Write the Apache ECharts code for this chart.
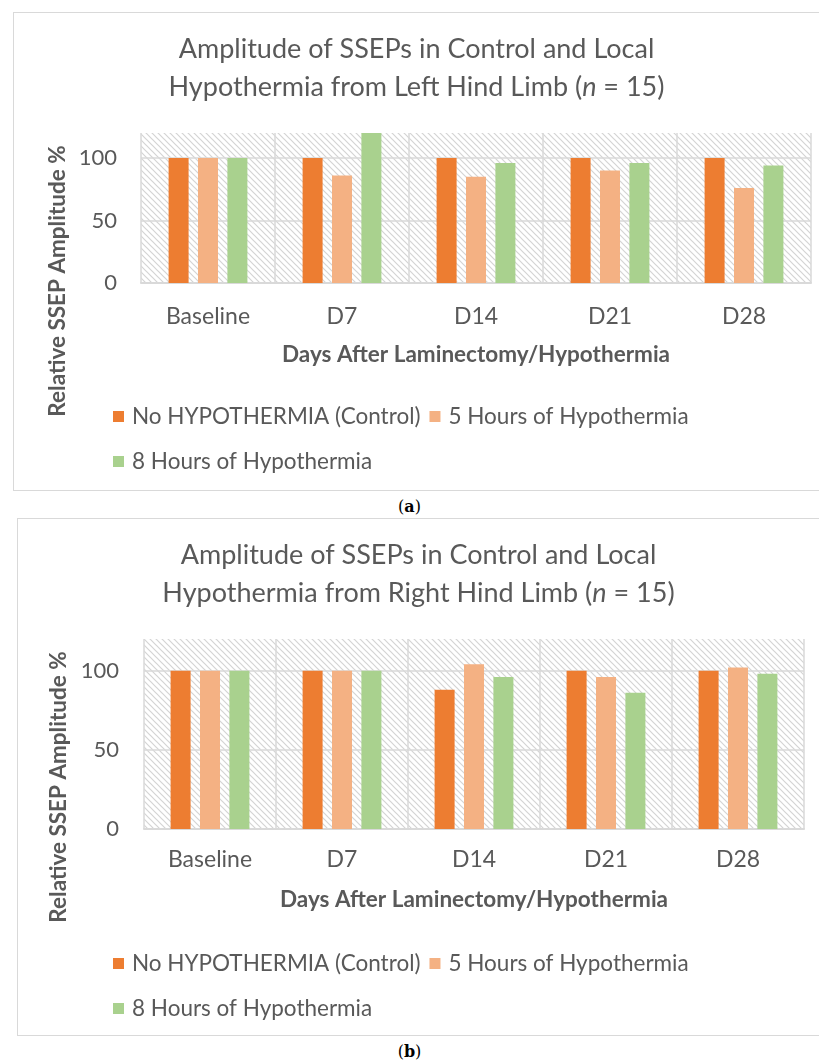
<!DOCTYPE html>
<html>
<head>
<meta charset="utf-8">
<script src="https://cdn.jsdelivr.net/npm/echarts@6/dist/echarts.min.js"></script>
<style>
  html, body { margin:0; padding:0; width:819px; height:1064px; overflow:hidden; background:#fff; }
  .box { position:absolute; border:1px solid #d9d9d9; border-right:none; box-sizing:border-box; }
  .cap { position:absolute; width:100%; text-align:center; font-family:"DejaVu Serif", "Liberation Serif", serif; font-size:16px; color:#000; }
  .cap b { font-weight:bold; }
</style>
</head>
<body>
<div id="c1" class="box" style="left:13px; top:12px; width:806px; height:479px;"></div>
<div class="cap" style="top:497px; left:0;">(<b>a</b>)</div>
<div id="c2" class="box" style="left:17px; top:518px; width:802px; height:518px;"></div>
<div class="cap" style="top:1042px; left:0;">(<b>b</b>)</div>
<script>
const categories = ['Baseline', 'D7', 'D14', 'D21', 'D28'];
const seriesNames = ['No HYPOTHERMIA (Control)', '5 Hours of Hypothermia', '8 Hours of Hypothermia'];
const seriesColors = ['#ED7D31', '#F4B183', '#A9D18E'];
const leftControl = [100, 100, 100, 100, 100];
const left5h = [100, 86, 85, 90, 76];
const left8h = [100, 120, 96, 96, 94];
const rightControl = [100, 100, 88, 100, 100];
const right5h = [100, 100, 104, 96, 102];
const right8h = [100, 100, 96, 86, 98];
const yMin = 0, yMax = 120, yInterval = 50;
const titleTop = 'Amplitude of SSEPs in Control and Local\nHypothermia from Left Hind Limb ({i|n} = 15)';
const titleBottom = 'Amplitude of SSEPs in Control and Local\nHypothermia from Right Hind Limb ({i|n} = 15)';
const xName = 'Days After Laminectomy/Hypothermia';
const yName = 'Relative SSEP Amplitude %';

const FONT = 'Lato';
const GRAY = '#595959';

function hatch() {
  const s = 6;
  const c = document.createElement('canvas');
  c.width = s; c.height = s;
  const g = c.getContext('2d');
  g.fillStyle = '#ffffff'; g.fillRect(0, 0, s, s);
  g.strokeStyle = '#d4d4d4'; g.lineWidth = 1.2;
  g.beginPath();
  g.moveTo(0, 0); g.lineTo(s, s);
  g.moveTo(-1, s - 1); g.lineTo(1, s + 1);
  g.moveTo(s - 1, -1); g.lineTo(s + 1, 1);
  g.stroke();
  return { image: c, repeat: 'repeat' };
}

function build(title, data, g) {
  const legendText = { fontFamily: FONT, fontSize: 22.5, color: GRAY, padding: [0, 0, 0, 3] };
  return {
    animation: false,
    title: {
      text: title, left: 'center', top: 12,
      textStyle: {
        fontFamily: FONT, fontSize: 27, fontWeight: 'normal', color: GRAY, lineHeight: 38,
        rich: { i: { fontFamily: FONT, fontSize: 27, fontStyle: 'italic', color: GRAY, lineHeight: 38 } }
      }
    },
    legend: [
      {
        data: [seriesNames[0], seriesNames[1]], left: g.legendLeft, top: g.legendTop,
        itemWidth: 11, itemHeight: 11, itemGap: 9, icon: 'rect', textStyle: legendText
      },
      {
        data: [seriesNames[2]], left: g.legendLeft, top: g.legendTop + 45,
        itemWidth: 11, itemHeight: 11, icon: 'rect', textStyle: legendText
      }
    ],
    graphic: [{
      type: 'text', x: g.yNameX, y: 268, rotation: Math.PI / 2,
      style: { text: yName, font: 'bold 22.5px ' + FONT, fill: GRAY, textAlign: 'center', textVerticalAlign: 'middle' }
    }],
    grid: {
      left: g.left, top: 120, width: g.width, height: g.height,
      show: true, backgroundColor: hatch(), borderWidth: 0
    },
    xAxis: {
      type: 'category', data: categories,
      axisTick: { show: false },
      axisLine: { lineStyle: { color: '#d9d9d9', width: 2 } },
      splitLine: { show: true, lineStyle: { color: '#d9d9d9', width: 1.5 } },
      axisLabel: { fontFamily: FONT, fontSize: 23, color: GRAY, margin: g.labelMargin },
      name: xName, nameLocation: 'middle', nameGap: g.nameGap,
      nameTextStyle: { fontFamily: FONT, fontSize: 22.5, fontWeight: 'bold', color: GRAY }
    },
    yAxis: {
      type: 'value', min: yMin, max: yMax, interval: yInterval,
      axisLine: { show: false }, axisTick: { show: false },
      axisLabel: {
        fontFamily: FONT, fontSize: 22, color: GRAY, margin: g.yMargin,
        formatter: v => (v % yInterval === 0 ? String(v) : '')
      },
      splitLine: { lineStyle: { color: ['#d9d9d9', '#d9d9d9', '#d9d9d9', 'rgba(0,0,0,0)'], width: 1.5 } }
    },
    series: data.map((d, i) => ({
      name: seriesNames[i], type: 'bar', data: d,
      barWidth: 20, barGap: '47%',
      itemStyle: { color: seriesColors[i] }
    }))
  };
}

const c1 = echarts.init(document.getElementById('c1'));
c1.setOption(build(titleTop, [leftControl, left5h, left8h], {
  left: 127, width: 670, height: 150, legendLeft: 94, legendTop: 387,
  yNameX: 44, labelMargin: 22, nameGap: 60, yMargin: 24
}));
const c2 = echarts.init(document.getElementById('c2'));
c2.setOption(build(titleBottom, [rightControl, right5h, right8h], {
  left: 126, width: 660, height: 190, legendLeft: 90, legendTop: 428,
  yNameX: 41, labelMargin: 19, nameGap: 59, yMargin: 25
}));
</script>
</body>
</html>
